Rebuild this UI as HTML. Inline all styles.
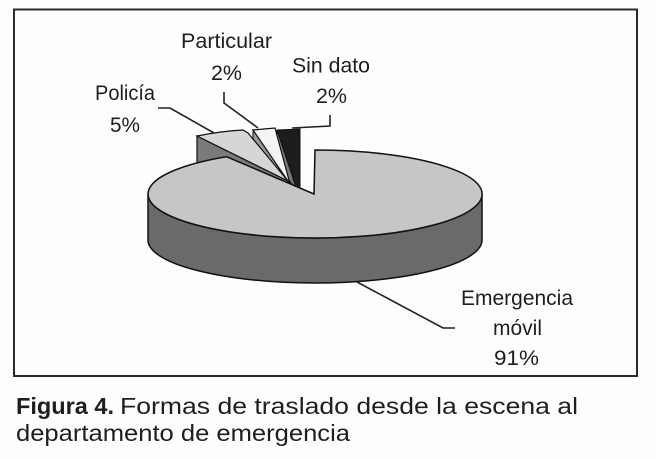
<!DOCTYPE html>
<html>
<head>
<meta charset="utf-8">
<style>
  html, body { margin:0; padding:0; background:#fdfdfd; }
  svg { display:block; }
  text { font-family: "Liberation Sans", Arial, sans-serif; fill:#1e1e1e; }
</style>
</head>
<body>
<svg width="656" height="459" viewBox="0 0 656 459" xmlns="http://www.w3.org/2000/svg">
  <rect x="0" y="0" width="656" height="459" fill="#fdfdfd"/>
  <!-- frame -->
  <rect x="14" y="9.5" width="623" height="366.5" fill="none" stroke="#2a2a2a" stroke-width="2"/>

  <!-- Sin dato wedge (black) -->
  <polygon points="277,130 297,190 297,235 277,175" fill="#777" stroke="#111" stroke-width="1"/>
  <polygon points="277,130 300,129 300,190 297,190" fill="#1c1c1c" stroke="#111" stroke-width="1"/>

  <!-- Particular wedge (white) -->
  <polygon points="253,130 292,184 292,229 253,175" fill="#9a9a9a" stroke="#111" stroke-width="1"/>
  <polygon points="253,130 275,128 290,184" fill="#f4f4f4" stroke="#111" stroke-width="1.2"/>

  <!-- Policia wedge -->
  <polygon points="197,136 288,181 288,226 197,181" fill="#7a7a7a" stroke="#111" stroke-width="1.2"/>
  <path d="M197,136 Q222,131 243,130 L248,133 L288,181 Z" fill="#d6d6d6" stroke="#111" stroke-width="1.2"/>

  <!-- big slice side -->
  <path d="M148,194 L148,240 A167 43 0 0 0 482,240 L482,194 A167 44 0 0 1 148,194 Z" fill="#6a6a6a" stroke="#111" stroke-width="1.5"/>
  <!-- big slice top -->
  <path d="M314,194 L226.5,156.7 A167 44 0 1 0 315,150 Z" fill="#c6c6c6" stroke="#111" stroke-width="1.5"/>

  <!-- leader lines -->
  <g fill="none" stroke="#222" stroke-width="1.6">
    <polyline points="158,108 170,108 214,133"/>
    <polyline points="224,92 224,103 258,128"/>
    <polyline points="330,115 330,126 292,128"/>
    <polyline points="357,282 443,328 455,328"/>
  </g>

  <!-- labels -->
  <g font-size="21">
    <text x="95" y="100" textLength="60" lengthAdjust="spacingAndGlyphs">Policía</text>
    <text x="110" y="132" textLength="30" lengthAdjust="spacingAndGlyphs">5%</text>
    <text x="181" y="48" textLength="91" lengthAdjust="spacingAndGlyphs">Particular</text>
    <text x="211" y="80" textLength="31" lengthAdjust="spacingAndGlyphs">2%</text>
    <text x="292" y="72.5" textLength="78" lengthAdjust="spacingAndGlyphs">Sin dato</text>
    <text x="316" y="103" textLength="31" lengthAdjust="spacingAndGlyphs">2%</text>
    <text x="461" y="305" textLength="112" lengthAdjust="spacingAndGlyphs">Emergencia</text>
    <text x="493" y="335" textLength="49" lengthAdjust="spacingAndGlyphs">móvil</text>
    <text x="494" y="365" textLength="45" lengthAdjust="spacingAndGlyphs">91%</text>
  </g>

  <!-- caption -->
  <text x="16" y="414" font-size="23" font-weight="bold" textLength="98" lengthAdjust="spacingAndGlyphs">Figura 4.</text>
  <text x="120" y="414" font-size="23" textLength="458" lengthAdjust="spacingAndGlyphs">Formas de traslado desde la escena al</text>
  <text x="16" y="441" font-size="23" textLength="334" lengthAdjust="spacingAndGlyphs">departamento de emergencia</text>
</svg>
</body>
</html>
